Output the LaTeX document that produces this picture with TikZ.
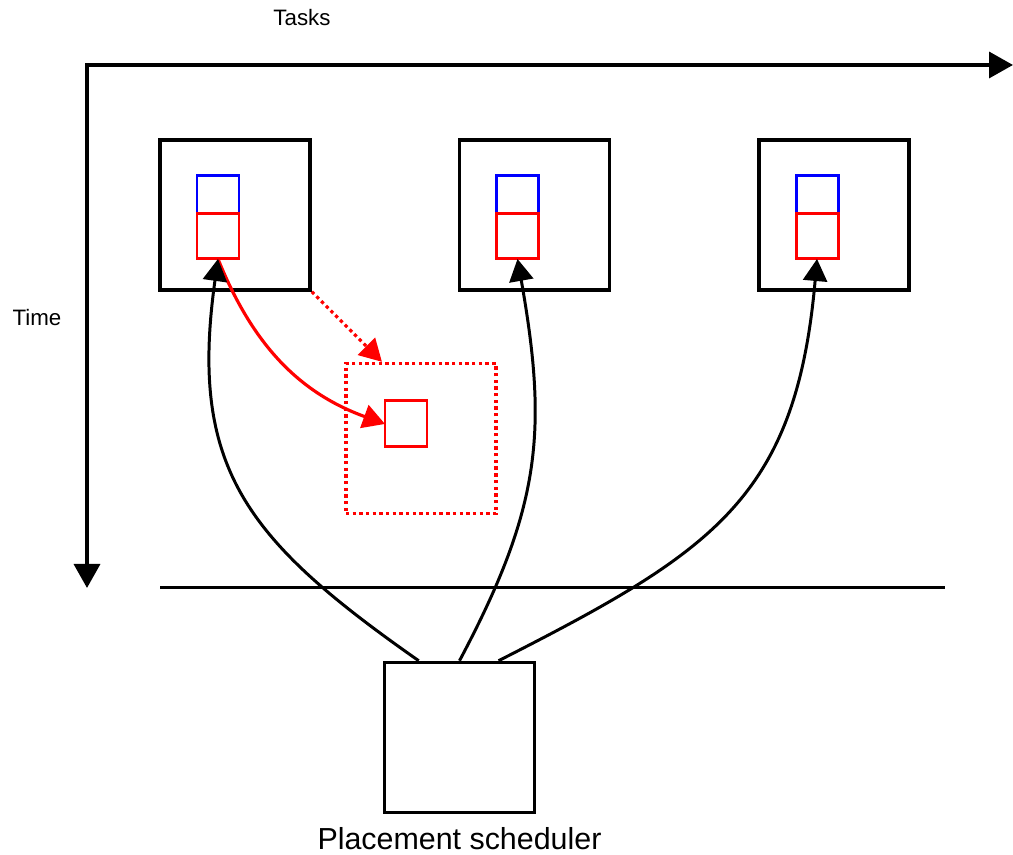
\documentclass[tikz,border=0pt]{standalone}
\usepackage{fontspec}
\setmainfont{Liberation Sans}
\usetikzlibrary{positioning, calc, arrows.meta}
\tikzset{
  > = {Triangle[length = 4.4mm, width = 4.8mm]},
  axis/.style = {line width = 2pt,
    {Triangle[length = 4.8mm, width = 5.2mm]}-{Triangle[length = 4.8mm, width = 5.2mm]}},
  axislabel/.style = {font = \fontsize{12.7}{15}\selectfont, inner sep = 0},
  cell/.style = {draw, line width = 2pt, minimum size = 3cm, inner sep = 0},
  task/.style n args = {2}{draw = #1, line width = 1.7pt, inner sep = 0, outer sep = 0,
    minimum width = 0.84cm, minimum height = #2},
  freeslot/.style = {draw = red, line width = 1.9pt, dash pattern = on 1.9pt off 1.9pt,
    minimum size = 3cm, inner sep = 0},
  call/.style = {->, line width = 1.7pt},
  move/.style = {->, red, line width = 1.8pt}
}

\begin{document}
\begin{tikzpicture}
\useasboundingbox (0,0) rectangle (20.26,17.1);

%% Axes
\coordinate (origin) at (1.74, 15.8);
\coordinate (taskend) at (20.26, 15.8);
\coordinate (timeend) at (1.74, 5.34);
\draw [axis] (timeend) |- (taskend);
\node [axislabel] (tasks) at (6.04, 16.74) {Tasks};
\node [axislabel] (time) at (0.74, 10.74) {Time};

%% Task cells
\node [cell] (cell1) at (4.7, 12.8) {};
\node [cell] (cell2) [right = 2.92cm of cell1] {};
\node [cell] (cell3) [right = 2.92cm of cell2] {};

\node [task = {blue}{0.76cm}] (blue1) at ($(cell1) + (-0.34, 0.4)$) {};
\node [task = {red}{0.9cm}] (red1) [below = 0pt of blue1] {};
\node [task = {blue}{0.76cm}] (blue2) at ($(cell2) + (-0.34, 0.4)$) {};
\node [task = {red}{0.9cm}] (red2) [below = 0pt of blue2] {};
\node [task = {blue}{0.76cm}] (blue3) at ($(cell3) + (-0.34, 0.4)$) {};
\node [task = {red}{0.9cm}] (red3) [below = 0pt of blue3] {};

%% Free slot
\node [freeslot] (spare) at (8.42, 8.33) {};
\node [task = {red}{0.92cm}] (moved) at ($(spare) + (-0.3, 0.29)$) {};

\draw [move, dash pattern = on 1.9pt off 1.9pt] (cell1.south east) -- (spare.117);
\draw [move] (red1.south) to [out = -68, in = 160] (moved.west);

%% Now
\coordinate (now west) at (3.2, 5.34);
\coordinate (now east) at (18.9, 5.34);
\draw [line width = 1.7pt] (now west) -- (now east);

%% Scheduler
\node [cell] (sched) at (9.19, 2.35) {};
\node [font = \fontsize{17.3}{20}\selectfont, inner sep = 0] (schedname)
  [below = 0.26cm of sched] {Placement scheduler};

\draw [call] (sched.118) to [out = 145, in = -98, looseness = 1.2] (red1.south);
\draw [call] (sched.north) to [out = 62, in = -80, looseness = 1.1] (red2.south);
\draw [call] (sched.63) to [out = 27, in = -95, looseness = 1.2] (red3.south);

\end{tikzpicture}
\end{document}
